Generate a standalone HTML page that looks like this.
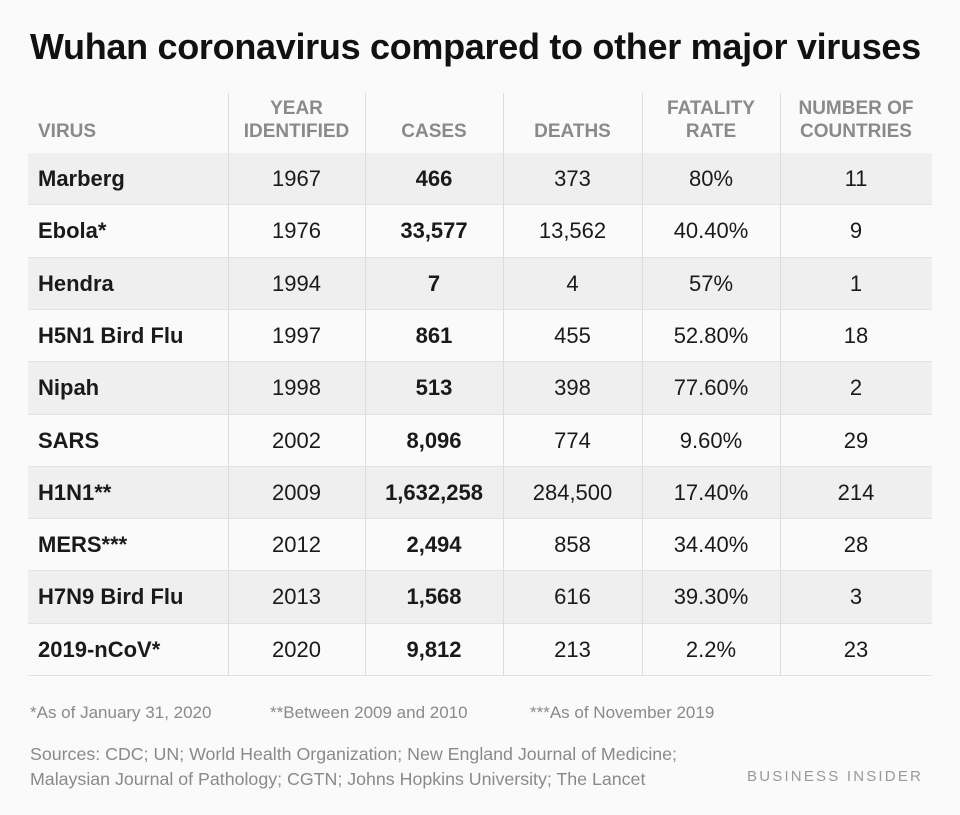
<!DOCTYPE html>
<html><head><meta charset="utf-8"><style>
body{margin:0;background:#fafafa;}
#page{position:relative;width:960px;height:815px;background:#fafafa;font-family:"Liberation Sans",sans-serif;overflow:hidden;}
.t{position:absolute;white-space:nowrap;}
#title{left:30px;top:26px;font-size:36px;font-weight:bold;color:#111;letter-spacing:-0.3px;}
.hd{font-size:19px;font-weight:bold;color:#8a8a8a;text-align:center;line-height:23px;}
.row{position:absolute;left:28px;width:904px;height:52px;}
.cell{position:absolute;font-size:22px;color:#1a1a1a;text-align:center;line-height:52px;}
.vline{position:absolute;width:1px;background:#dcdcdc;top:93px;height:583px;}
.hline{position:absolute;left:28px;width:904px;height:1px;background:#e2e2e2;}
.foot{font-size:17px;color:#8a8a8a;}
</style></head><body>
<div id="page">
<div class="t" id="title">Wuhan coronavirus compared to other major viruses</div>
<div class="t hd" style="left:38px;top:120px;text-align:left">VIRUS</div>
<div class="t hd" style="left:228px;width:137px;top:97px">YEAR<br>IDENTIFIED</div>
<div class="t hd" style="left:365px;width:138px;top:120px">CASES</div>
<div class="t hd" style="left:503px;width:139px;top:120px">DEATHS</div>
<div class="t hd" style="left:642px;width:138px;top:97px">FATALITY<br>RATE</div>
<div class="t hd" style="left:780px;width:152px;top:97px">NUMBER OF<br>COUNTRIES</div>
<div id="rows"></div>
<div class="t foot" style="left:30px;top:703px">*As of January 31, 2020</div>
<div class="t foot" style="left:270px;top:703px">**Between 2009 and 2010</div>
<div class="t foot" style="left:530px;top:703px">***As of November 2019</div>
<div class="t foot" style="left:30px;top:742px;line-height:25px;font-size:17.8px">Sources: CDC; UN; World Health Organization; New England Journal of Medicine;<br>Malaysian Journal of Pathology; CGTN; Johns Hopkins University; The Lancet</div>
<div class="t" style="left:747px;top:768px;font-size:15px;color:#999;letter-spacing:2.2px">BUSINESS INSIDER</div>
</div>
<script>
const viruses=["Marberg","Ebola*","Hendra","H5N1 Bird Flu","Nipah","SARS","H1N1**","MERS***","H7N9 Bird Flu","2019-nCoV*"];
const years=["1967","1976","1994","1997","1998","2002","2009","2012","2013","2020"];
const cases=["466","33,577","7","861","513","8,096","1,632,258","2,494","1,568","9,812"];
const deaths=["373","13,562","4","455","398","774","284,500","858","616","213"];
const rates=["80%","40.40%","57%","52.80%","77.60%","9.60%","17.40%","34.40%","39.30%","2.2%"];
const countries=["11","9","1","18","2","29","214","28","3","23"];
const page=document.getElementById('page');
const cols=[[228,137],[365,138],[503,139],[642,138],[780,152]];
const top0=153,rh=52.3;
viruses.forEach((v,i)=>{
  const r=document.createElement('div');
  r.className='row';
  
  
  r.style.top=(top0+i*rh)+'px';
  r.style.background=i%2===0?'#efefef':'#fafafa';
  page.appendChild(r);
  const vals=[years[i],cases[i],deaths[i],rates[i],countries[i]];
  const names=['year','cases','deaths','fatality-rate','countries'];
  const c0=document.createElement('div');
  c0.className='cell';
  
  
  c0.style.left='10px';c0.style.textAlign='left';c0.style.fontWeight='bold';
  c0.textContent=v;r.appendChild(c0);
  vals.forEach((t,j)=>{
    const c=document.createElement('div');
    c.className='cell';
    
    
    c.style.left=(cols[j][0]-28)+'px';c.style.width=cols[j][1]+'px';
    if(j===1)c.style.fontWeight='bold';
    c.textContent=t;r.appendChild(c);
  });
  const h=document.createElement('div');
  h.className='hline';
  
  
  h.style.top=(top0+(i+1)*rh-1)+'px';
  page.appendChild(h);
});
[228,365,503,642,780].forEach(x=>{
  const l=document.createElement('div');
  l.className='vline';
  
  
  l.style.left=x+'px';
  page.appendChild(l);
});
</script>
</body></html>
